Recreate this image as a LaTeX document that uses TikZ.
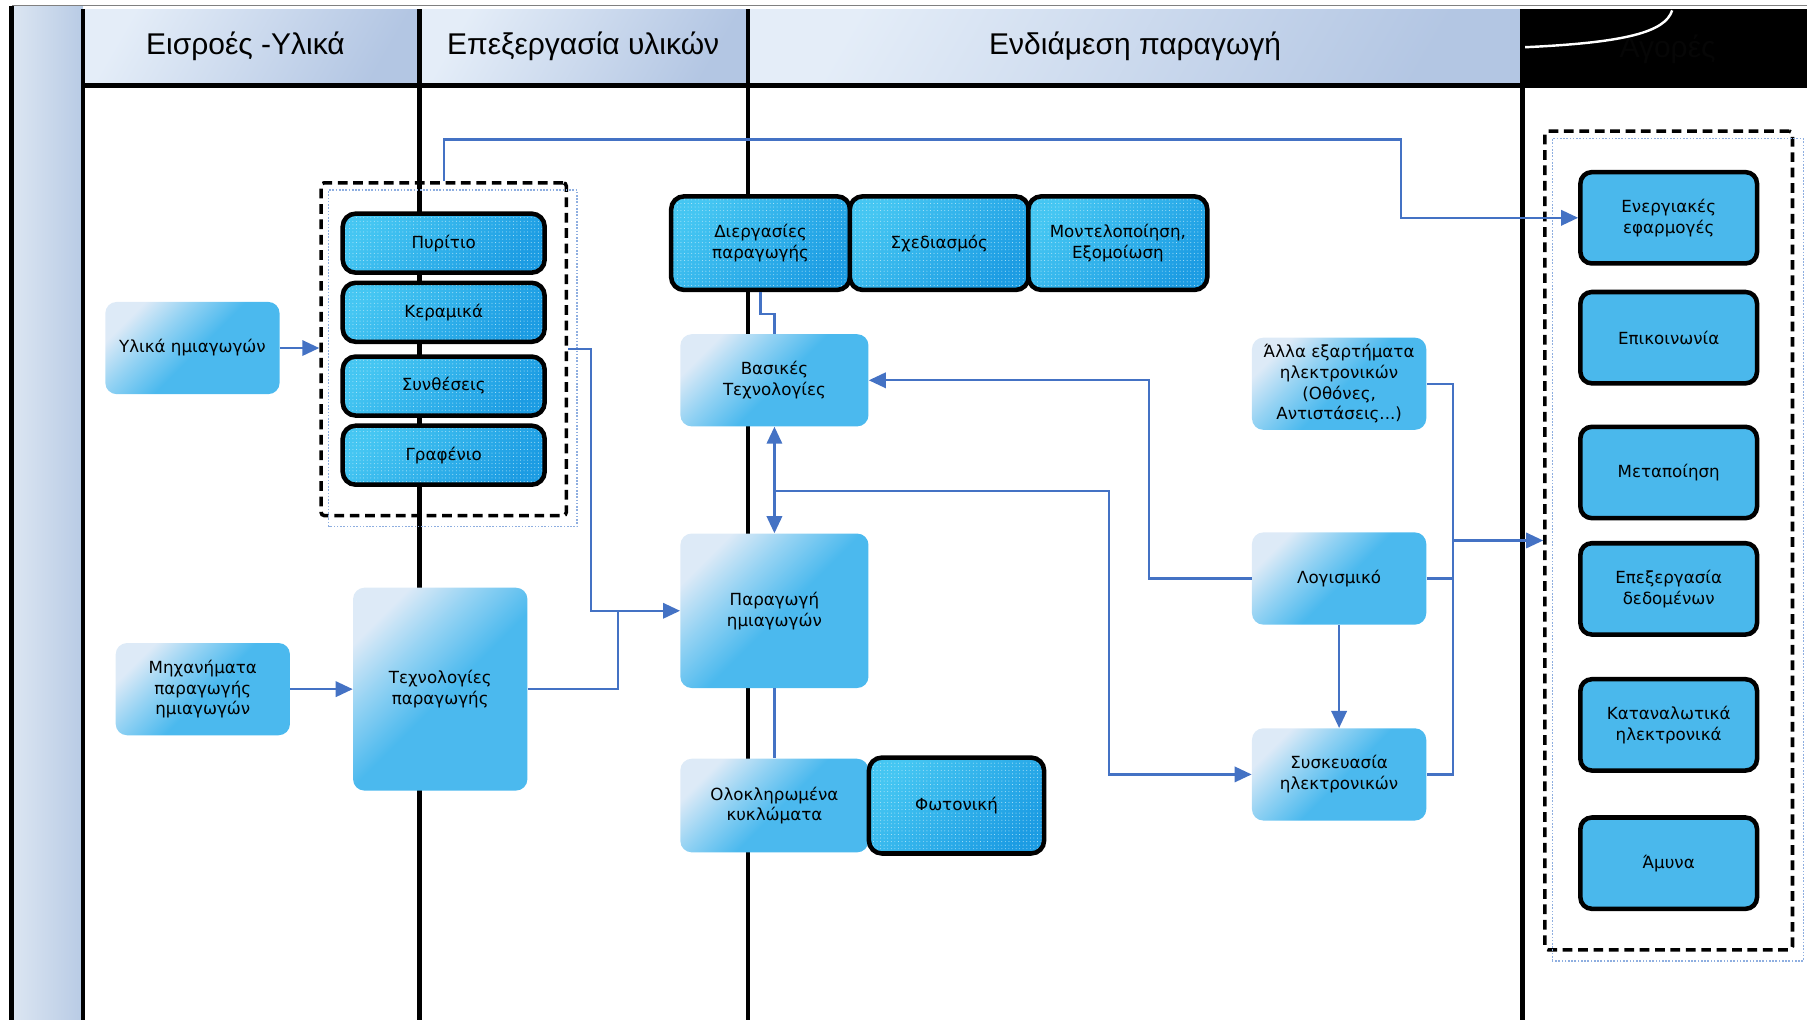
\documentclass[tikz,border=0pt]{standalone}
\usepackage{fontspec}
\usepackage{xcolor}
\usepackage{tikz}
\usetikzlibrary{calc,fit,arrows.meta,patterns.meta}
\newfontfamily\boxfont{DejaVu Sans}
\newfontfamily\lanefont{Liberation Sans}
\definecolor{boxblue}{HTML}{4BB9EE}
\definecolor{boxmid}{HTML}{93D2F3}
\definecolor{boxlight}{HTML}{DDEAF7}
\definecolor{dotlight}{HTML}{45C6F2}
\definecolor{dotdark}{HTML}{1C9CE3}
\definecolor{mktblue}{HTML}{4AB8EC}
\definecolor{linkblue}{HTML}{4472C4}
\definecolor{hdrlight}{HTML}{E4EDF8}
\definecolor{hdrdark}{HTML}{B3C6E3}
\definecolor{bandlight}{HTML}{DCE6F2}
\definecolor{banddark}{HTML}{B8CBE5}
\definecolor{ghostblue}{HTML}{8EAEE0}
\definecolor{darktext}{HTML}{060606}
\pgfdeclareverticalshading{lfade}{100bp}{color(0bp)=(boxblue); color(25bp)=(boxblue); color(48bp)=(boxblue); color(62bp)=(boxmid); color(75bp)=(boxlight); color(100bp)=(boxlight)}
\tikzset{
  lane/.style={draw=black, line width=2.8pt},
  hdr/.style={top color=hdrlight, bottom color=hdrdark, shading angle=60},
  lab/.style={font=\lanefont\fontsize{18.5}{20}\selectfont},
  txt/.style={font=\boxfont\fontsize{10.3}{12.8}\selectfont, align=center, inner sep=2pt},
  lbox/.style={txt, shade, shading=lfade, shading angle=45, rounded corners=7pt, minimum width=3.78cm, minimum height=2cm},
  dbox/.style={txt, preaction={top color=dotlight, bottom color=dotdark, shading angle=45}, pattern={Dots[radius=0.3pt,distance=2.2pt]}, pattern color=white!65!dotlight, draw=black, line width=2.8pt, rounded corners=8pt},
  mbox/.style={txt, fill=mktblue, draw=black, line width=2.8pt, rounded corners=7pt, minimum width=3.83cm, minimum height=1.98cm},
  grp/.style={draw=black, line width=2.2pt, dash pattern=on 6pt off 3.5pt, rounded corners=2pt},
  ghost/.style={draw=ghostblue, line width=1pt, densely dotted},
  conn/.style={draw=linkblue, line width=1.4pt},
  arr/.style={conn, -{Triangle[length=10.5pt,width=9.5pt]}},
  darr/.style={conn, {Triangle[length=10.5pt,width=9.5pt]}-{Triangle[length=10.5pt,width=9.5pt]}}
}
\begin{document}
\begin{tikzpicture}[x=0.025cm, y=-0.025cm]
  \useasboundingbox (0,0) rectangle (1568,885);
  % lanes
  \fill[left color=bandlight, right color=banddark] (10,6) rectangle (72,885);
  \foreach \xa/\xb in {72/364, 364/649, 649/1321}
    \shade[hdr] (\xa,8) rectangle (\xb,74);
  \fill[black] (1321,8) rectangle (1568,74);
  \node[lab, text=darktext] (hmkt) at (1447,43) {Αγορές};
  \draw[white, line width=1.5pt] (1323,41) .. controls (1410,37) and (1445,28) .. (1451,9);
  \draw[gray, line width=0.8pt] (10,5) -- (1568,5);
  \draw[lane] (10,5) -- (10,885);
  \foreach \xx in {72,364,649,1321}
    \draw[lane] (\xx,8) -- (\xx,885);
  \draw[lane] (72,74) -- (1568,74);
  \node[lab] (hin) at (213,40) {Εισροές -Υλικά};
  \node[lab] (hproc) at (506,40) {Επεξεργασία υλικών};
  \node[lab] (hmid) at (985,40) {Ενδιάμεση παραγωγή};

  % inputs
  \node[lbox] (ylika) at (167,302) {Υλικά ημιαγωγών};
  \node[lbox] (mixan) at (176,598) {Μηχανήματα\\παραγωγής\\ημιαγωγών};
  \node[lbox, minimum height=4.4cm] (techprod) at (382,598) {Τεχνολογίες\\παραγωγής};

  % materials
  \foreach \nm/\yy/\tx in {pyr/211/Πυρίτιο, ker/271/Κεραμικά, syn/335/Συνθέσεις, graf/395/Γραφένιο}
    \node[dbox, minimum width=4.38cm, minimum height=1.28cm] (\nm) at (385,\yy) {\tx};
  \node[grp, fit=(pyr)(graf), inner xsep=0.42cm, inner ysep=0.62cm] (grpL) {};
  \draw[ghost] ($(grpL.south west)+(8,8)$) rectangle ($(grpL.north east)+(8,8)$);

  % intermediate production
  \node[dbox, minimum width=3.88cm, minimum height=2.03cm] (dierg) at (660,211) {Διεργασίες\\παραγωγής};
  \node[dbox, minimum width=3.88cm, minimum height=2.03cm] (sxed) at (815,211) {Σχεδιασμός};
  \node[dbox, minimum width=3.88cm, minimum height=2.03cm] (model) at (970,211) {Μοντελοποίηση,\\Εξομοίωση};
  \node[lbox, minimum width=4.08cm] (vasikes) at (672,330) {Βασικές\\Τεχνολογίες};
  \node[lbox, minimum width=4.08cm, minimum height=3.35cm] (paragogi) at (672,530) {Παραγωγή\\ημιαγωγών};
  \node[lbox, minimum width=4.08cm, minimum height=2.03cm] (olokl) at (672,699) {Ολοκληρωμένα\\κυκλώματα};
  \node[dbox, minimum width=3.8cm, minimum height=2.08cm] (foton) at (830,699) {Φωτονική};
  \node[lbox] (alla) at (1162,333) {Άλλα εξαρτήματα\\ηλεκτρονικών\\(Οθόνες,\\Αντιστάσεις...)};
  \node[lbox] (logism) at (1162,502) {Λογισμικό};
  \node[lbox] (syskev) at (1162,672) {Συσκευασία\\ηλεκτρονικών};

  % markets
  \foreach \nm/\yy/\tx in {energ/189/{Ενεργιακές\\εφαρμογές}, epik/293/Επικοινωνία, metap/410/Μεταποίηση, epex/511/{Επεξεργασία\\δεδομένων}, katan/629/{Καταναλωτικά\\ηλεκτρονικά}, amyna/749/Άμυνα}
    \node[mbox] (\nm) at (1448,\yy) {\tx};
  \node[grp, fit=(energ)(amyna), inner xsep=0.72cm, inner ysep=0.84cm] (grpR) {};
  \draw[ghost] ($(grpR.south west)+(8,8)$) rectangle ($(grpR.north east)+(8,8)$);

  % connectors
  \draw[arr] (ylika.east) -- (ylika.east -| grpL.west);
  \draw[arr] (mixan.east) -- (mixan.east -| techprod.west);
  \draw[conn] (techprod.east) -| (536,530);
  \draw[arr] (grpL.east) -- (513,303) |- (paragogi.west);
  \draw[arr] (grpL.north) |- (1216,121) |- (energ.west);
  \draw[conn] (dierg.south) -- ++(0,19) -| (vasikes.north);
  \draw[darr] (vasikes.south) -- (paragogi.north);
  \coordinate (jct) at (672,426);
  \draw[arr] (jct) -- (962,426) |- (syskev.west);
  \draw[arr] (logism.west) -- (997,502) |- (vasikes.east);
  \draw[arr] (logism.south) -- (syskev.north);
  \draw[conn] (paragogi.south) -- (olokl.north);
  \draw[conn] (alla.east) -| (1261,672) -- (syskev.east);
  \draw[conn] (logism.east) -- (1261,502);
  \coordinate (bus) at (1261,469);
  \draw[arr] (bus) -- (grpR.west);
\end{tikzpicture}
\end{document}
